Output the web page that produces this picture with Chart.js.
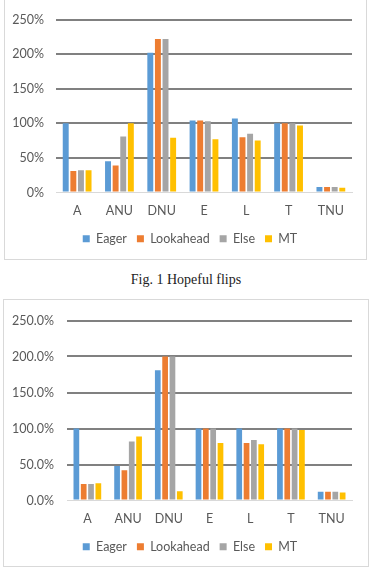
<!DOCTYPE html>
<html>
<head>
<meta charset="utf-8">
<script src="https://cdn.jsdelivr.net/npm/chart.js@4.4.1/dist/chart.umd.min.js"></script>
<style>
  html, body { margin: 0; padding: 0; background: #fff; width: 369px; height: 568px; overflow: hidden; position: relative; }
  .frame { position: absolute; border: 1px solid #d9d9d9; box-sizing: border-box; }
  .cv { position: absolute; left: 0; }
  #cap { position: absolute; left: 0; width: 372px; top: 272px; text-align: center; font-family: "Liberation Serif", "Times New Roman", serif; font-size: 14px; color: #222; }
</style>
</head>
<body>
<div class="frame" style="left:4px; top:-1px; width:363px; height:261px;"></div>
<div class="frame" style="left:3px; top:299px; width:366px; height:268px;"></div>
<div class="cv" style="top:0px; width:369px; height:258px;"><canvas id="c1"></canvas></div>
<div id="cap">Fig. 1 Hopeful flips</div>
<div class="cv" style="top:300px; width:369px; height:266px;"><canvas id="c2"></canvas></div>
<script>
// ---- data ----
const categories = ["A", "ANU", "DNU", "E", "L", "T", "TNU"];
const seriesNames = ["Eager", "Lookahead", "Else", "MT"];
const seriesColors = ["#5B9BD5", "#ED7D31", "#A5A5A5", "#FFC000"];

// Fig. 1 (percent)
const fig1Eager     = [100, 45, 202, 104, 107, 100, 8];
const fig1Lookahead = [31, 39, 222, 104, 80, 100, 8];
const fig1Else      = [32, 81, 222, 103, 85, 100, 8];
const fig1MT        = [32, 100, 79, 77, 75, 97, 7];
const fig1Ticks     = [0, 50, 100, 150, 200, 250];

// Fig. 2 (percent)
const fig2Eager     = [100, 48, 181, 100, 100, 100, 12];
const fig2Lookahead = [23, 42, 200, 100, 80, 100, 12];
const fig2Else      = [23, 82, 200, 100, 84, 100, 12];
const fig2MT        = [24, 89, 13, 80, 78, 98, 11];
const fig2Ticks     = [0, 50, 100, 150, 200, 250];

const FONT = "Lato, 'Open Sans', sans-serif";
const TXT = "#595959";

function makeChart(id, series, ticks, fmt, cfg) {
  const datasets = series.map((d, i) => ({
    label: seriesNames[i],
    data: d,
    backgroundColor: seriesColors[i],
    borderWidth: 0,
    categoryPercentage: 0.72,
    barPercentage: 0.78
  }));
  const legendShift = {
    id: 'legendShift',
    afterLayout(chart) {
      const l = chart.legend;
      if (l) { l.left += cfg.legendDx; l.right += cfg.legendDx; }
    }
  };
  return new Chart(document.getElementById(id), {
    type: 'bar',
    data: { labels: categories, datasets },
    plugins: [legendShift],
    options: {
      responsive: true,
      maintainAspectRatio: false,
      animation: false,
      layout: { padding: cfg.padding },
      plugins: {
        tooltip: { enabled: false },
        legend: {
          position: 'bottom',
          labels: {
            boxWidth: 7, boxHeight: 7, padding: 10,
            color: TXT,
            font: { family: FONT, size: 12.5 }
          }
        }
      },
      scales: {
        x: {
          grid: { display: false },
          border: { display: true, color: '#d9d9d9', width: 1 },
          ticks: { color: TXT, font: { family: FONT, size: 12.5 }, padding: cfg.xPad },
          afterFit: s => { s.height = cfg.xHeight; }
        },
        y: {
          min: ticks[0], max: ticks[ticks.length - 1],
          afterBuildTicks: s => { s.ticks = ticks.map(v => ({ value: v })); },
          border: { display: false },
          grid: {
            drawTicks: false,
            color: c => (c.tick && c.tick.value === 0) ? 'rgba(0,0,0,0)' : '#808080',
            lineWidth: 2
          },
          ticks: { color: TXT, font: { family: FONT, size: 12.5 }, padding: cfg.yPad, callback: v => fmt(v) },
          afterFit: s => { s.width = cfg.yWidth; }
        }
      }
    }
  });
}

makeChart('c1', [fig1Eager, fig1Lookahead, fig1Else, fig1MT], fig1Ticks, v => v + '%',
  { padding: { left: 0, right: 17, top: 11, bottom: 3 }, xHeight: 30, xPad: 3, yPad: 12, yWidth: 56, legendDx: 14 });

makeChart('c2', [fig2Eager, fig2Lookahead, fig2Else, fig2MT], fig2Ticks, v => v.toFixed(1) + '%',
  { padding: { left: 0, right: 17, top: 14, bottom: 3 }, xHeight: 30, xPad: 3, yPad: 13, yWidth: 67, legendDx: 14 });
</script>
</body>
</html>
